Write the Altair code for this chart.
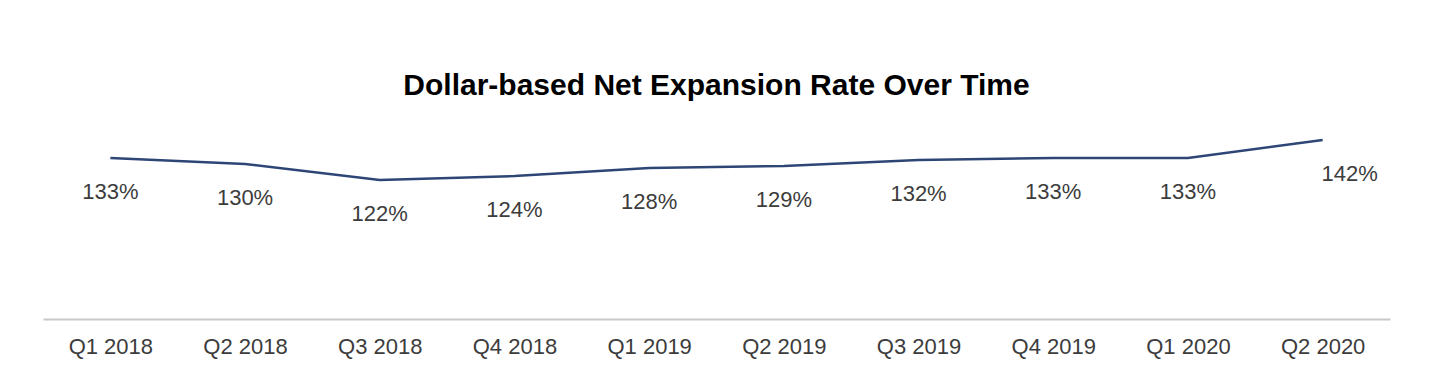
import altair as alt
import pandas as pd

quarters = ["Q1 2018", "Q2 2018", "Q3 2018", "Q4 2018", "Q1 2019",
            "Q2 2019", "Q3 2019", "Q4 2019", "Q1 2020", "Q2 2020"]
rates = [133, 130, 122, 124, 128, 129, 132, 133, 133, 142]
labels = [f"{r}%" for r in rates]

df = pd.DataFrame({"quarter": quarters, "rate": rates, "label": labels})
last = quarters[-1]

x = alt.X("quarter:N", sort=quarters, title=None,
          scale=alt.Scale(paddingInner=0, paddingOuter=0),
          axis=alt.Axis(labelAngle=0, labelFontSize=22, labelColor="#3c3c3c",
                        labelFont="Liberation Sans", labelPadding=17,
                        ticks=False, domainColor="#c8c8c8", domainWidth=2,
                        grid=False))
y = alt.Y("rate:Q", title=None, scale=alt.Scale(domain=[52.5, 157], zero=False, nice=False),
          axis=None)

line = alt.Chart(df).mark_line(color="#2e4676", strokeWidth=2.5).encode(x=x, y=y)
text = alt.Chart(df).transform_filter(alt.datum.quarter != last).mark_text(
    dy=34, fontSize=22, color="#3c3c3c", font="Liberation Sans"
).encode(x=x, y=y, text="label:N")
text_last = alt.Chart(df).transform_filter(alt.datum.quarter == last).mark_text(
    dy=34, dx=27, fontSize=22, color="#3c3c3c", font="Liberation Sans"
).encode(x=x, y=y, text="label:N")

chart = (line + text + text_last).properties(
    width=1347, height=209,
    padding={"left": 35, "top": 102, "right": 10, "bottom": 55},
    autosize=alt.AutoSizeParams(type="none"),
    title=alt.TitleParams("Dollar-based Net Expansion Rate Over Time",
                          font="Liberation Sans", fontSize=30, fontWeight="bold",
                          color="#000000", anchor="middle", offset=9),
).configure_view(stroke=None)

chart.save("out.html", embed_options={"renderer": "svg", "actions": False})
